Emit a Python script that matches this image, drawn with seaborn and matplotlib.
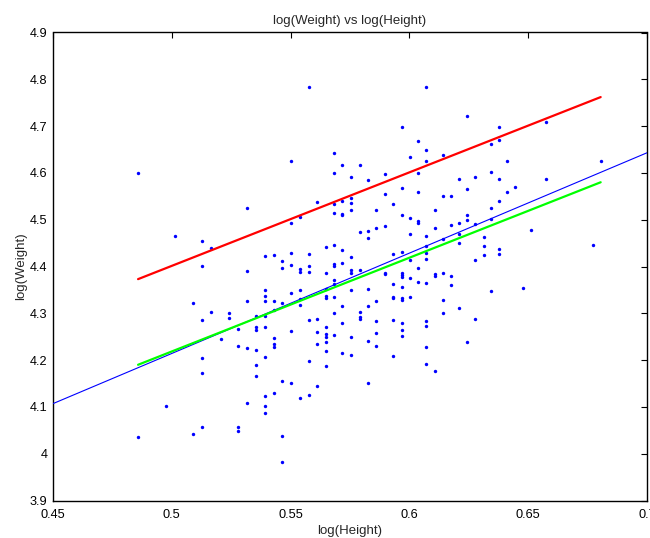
import matplotlib
matplotlib.use("Agg")
import matplotlib.pyplot as plt
import seaborn as sns
import pandas as pd

# ---- data ----
log_height = [
    0.4858, 0.5316, 0.5014, 0.5129, 0.5167, 0.5392, 0.5429, 0.5129, 0.5316, 0.5392,
    0.5392, 0.5316, 0.5392, 0.5429, 0.5090, 0.5429, 0.5167, 0.5242, 0.5242, 0.5354,
    0.5392, 0.5129, 0.5280, 0.5354, 0.5354, 0.5392, 0.5205, 0.5429, 0.5429, 0.5429,
    0.5280, 0.5316, 0.5354, 0.5392, 0.5129, 0.5354, 0.5129, 0.5354, 0.5392, 0.5429,
    0.4975, 0.5316, 0.5392, 0.5392, 0.5129, 0.5090, 0.5279, 0.5279, 0.4858, 0.5539,
    0.5576, 0.5465, 0.5465,
    0.5790, 0.5825, 0.5825, 0.6001, 0.6071, 0.5501, 0.5465, 0.5465, 0.5501, 0.5576,
    0.5539, 0.5539, 0.5576, 0.5576, 0.5647, 0.5684, 0.5718, 0.5755, 0.5683, 0.5683,
    0.5718, 0.5647, 0.5755, 0.5755, 0.5790, 0.5896, 0.5896, 0.5933, 0.5968, 0.5968,
    0.5968, 0.5968, 0.6001, 0.6001, 0.6037, 0.6037, 0.6071, 0.6071, 0.6071, 0.5683,
    0.5683, 0.5647, 0.5539, 0.5501, 0.5755, 0.5825, 0.5933, 0.5968, 0.5647, 0.5647,
    0.5683, 0.5539, 0.5465, 0.5539, 0.5861, 0.5933, 0.5933, 0.5968, 0.5968, 0.6001,
    0.5718, 0.5825, 0.5790, 0.5683, 0.5790, 0.5790, 0.5576, 0.5612, 0.5933, 0.5861,
    0.5718, 0.5968, 0.6071, 0.6071, 0.5647, 0.5968, 0.5501, 0.5612, 0.5861, 0.5647,
    0.5683, 0.5647, 0.5755, 0.5968, 0.5825, 0.5647, 0.5612, 0.5861, 0.6071, 0.5647,
    0.5718, 0.5755, 0.5933, 0.5576, 0.6071, 0.5647, 0.5465, 0.5501, 0.5825, 0.5612,
    0.5576, 0.6071, 0.5968, 0.6037, 0.6071, 0.6071, 0.6001, 0.5501, 0.5683, 0.5683,
    0.5718, 0.5790, 0.5755, 0.5825, 0.5896, 0.6037, 0.5968, 0.6037, 0.5896, 0.5611,
    0.5684, 0.5718, 0.5755, 0.5755, 0.5933, 0.5684, 0.5718, 0.5718, 0.5755, 0.5861,
    0.5539, 0.5501, 0.5896, 0.5968, 0.6001, 0.6037, 0.6037, 0.5861,
    0.6242, 0.6378, 0.6577, 0.6378, 0.6345, 0.6140, 0.6412, 0.6805, 0.6345, 0.6277,
    0.6209, 0.6378, 0.6577, 0.6445, 0.6244, 0.6412, 0.6140, 0.6174, 0.6378, 0.6345,
    0.6106, 0.6244, 0.6244, 0.6345, 0.6277, 0.6209, 0.6174, 0.6106, 0.6209, 0.6312,
    0.6511,
    0.6071, 0.6209, 0.6140, 0.6312, 0.6378, 0.6378, 0.6312, 0.6774, 0.6277, 0.6106,
    0.6106, 0.6140, 0.6174, 0.6174, 0.6345, 0.6479, 0.6140, 0.6140, 0.6209, 0.6277,
    0.6244, 0.6106,
]
log_weight = [
    4.5995, 4.5240, 4.4660, 4.4555, 4.4397, 4.4226, 4.4240, 4.4012, 4.3913, 4.3492,
    4.3379, 4.3272, 4.3272, 4.3272, 4.3214, 4.3079, 4.3021, 4.3000, 4.2908, 4.2950,
    4.2950, 4.2850, 4.2658, 4.2707, 4.2636, 4.2700, 4.2459, 4.2480, 4.2352, 4.2280,
    4.2294, 4.2266, 4.2215, 4.2074, 4.2044, 4.1902, 4.1717, 4.1667, 4.1231, 4.1304,
    4.1011, 4.1081, 4.1026, 4.0876, 4.0562, 4.0427, 4.0562, 4.0482, 4.0362, 4.1197,
    4.1246, 4.0384, 3.9828,
    4.4739, 4.4754, 4.4611, 4.4705, 4.4654, 4.4298, 4.4112, 4.3969, 4.4033, 4.4262,
    4.3948, 4.3892, 4.4020, 4.3883, 4.4427, 4.4455, 4.4354, 4.4213, 4.4048, 4.4012,
    4.4084, 4.3856, 4.3935, 4.3862, 4.3935, 4.3870, 4.3840, 4.4262, 4.4320, 4.3870,
    4.3813, 4.3770, 4.4149, 4.3755, 4.3969, 4.3670, 4.4283, 4.4155, 4.3642, 4.3721,
    4.3635, 4.3520, 4.3492, 4.3428, 4.3492, 4.3528, 4.3620, 4.3556, 4.3364, 4.3336,
    4.3349, 4.3314, 4.3229, 4.3178, 4.3257, 4.3342, 4.3328, 4.3321, 4.3293, 4.3342,
    4.3165, 4.3165, 4.3028, 4.3000, 4.2921, 4.2878, 4.2857, 4.2886, 4.2857, 4.2829,
    4.2801, 4.2801, 4.2829, 4.2728, 4.2715, 4.2636, 4.2622, 4.2608, 4.2587, 4.2551,
    4.2544, 4.2493, 4.2493, 4.2508, 4.2416, 4.2386, 4.2352, 4.2294, 4.2280, 4.2202,
    4.2144, 4.2108, 4.2095, 4.1973, 4.1924, 4.1873, 4.1545, 4.1518, 4.1503, 4.1453,
    4.7828, 4.7840, 4.6972, 4.6673, 4.6487, 4.6258, 4.6343, 4.6251, 4.6416, 4.6001,
    4.6172, 4.6172, 4.5903, 4.5838, 4.5967, 4.5988, 4.5667, 4.5595, 4.5539, 4.5368,
    4.5332, 4.5402, 4.5453, 4.5360, 4.5346, 4.5146, 4.5125, 4.5103, 4.5197, 4.5210,
    4.5060, 4.4919, 4.4876, 4.5111, 4.5047, 4.4974, 4.4931, 4.4818,
    4.7214, 4.6985, 4.7092, 4.6694, 4.6609, 4.6386, 4.6258, 4.6251, 4.6010, 4.5903,
    4.5860, 4.5873, 4.5860, 4.5702, 4.5659, 4.5588, 4.5503, 4.5517, 4.5410, 4.5246,
    4.5197, 4.5096, 4.5004, 4.5011, 4.4910, 4.4931, 4.4882, 4.4833, 4.4696, 4.4626,
    4.4782,
    4.4440, 4.4497, 4.4577, 4.4448, 4.4369, 4.4262, 4.4247, 4.4470, 4.4134, 4.3840,
    4.3798, 4.3870, 4.3798, 4.3614, 4.3477, 4.3541, 4.3285, 4.3015, 4.3107, 4.2886,
    4.2380, 4.1766,
]

# fitted line (full axis width) and the two parallel reference lines
fit_x = [0.45, 0.70]
fit_y = [4.107, 4.643]
ref_x = [0.4858, 0.6805]
red_y = [4.373, 4.762]
green_y = [4.190, 4.580]

x_ticks = [0.45, 0.5, 0.55, 0.6, 0.65, 0.7]
x_tick_labels = ["0.45", "0.5", "0.55", "0.6", "0.65", "0.7"]
y_ticks = [3.9, 4.0, 4.1, 4.2, 4.3, 4.4, 4.5, 4.6, 4.7, 4.8, 4.9]
y_tick_labels = ["3.9", "4", "4.1", "4.2", "4.3", "4.4", "4.5", "4.6", "4.7", "4.8", "4.9"]

# ---- plot ----
sns.set_style("white")
plt.rcParams["font.family"] = ["Liberation Sans", "DejaVu Sans"]

fig = plt.figure(figsize=(6.5, 5.38), dpi=100)
ax = fig.add_axes([53 / 650, (538 - 500.5) / 538, 594 / 650, 468 / 538])

df = pd.DataFrame({"h": log_height, "w": log_weight})
sns.scatterplot(data=df, x="h", y="w", color=(0, 0, 1), s=6, linewidth=0,
                marker="o", ax=ax, zorder=2)
sns.lineplot(x=fit_x, y=fit_y, color=(0, 0, 1), linewidth=0.8, ax=ax, zorder=3)
sns.lineplot(x=ref_x, y=red_y, color=(1, 0, 0), linewidth=1.6, ax=ax, zorder=3)
sns.lineplot(x=ref_x, y=green_y, color=(0, 1, 0), linewidth=1.6, ax=ax, zorder=3)

ax.set_xlim(0.45, 0.70)
ax.set_ylim(3.9, 4.9)
ax.set_xticks(x_ticks)
ax.set_xticklabels(x_tick_labels)
ax.set_yticks(y_ticks)
ax.set_yticklabels(y_tick_labels)
ax.tick_params(direction="in", length=4, width=0.8, labelsize=9.2, colors="black",
               top=True, right=True, pad=4)
ax.tick_params(axis="x", pad=6)
for sp in ax.spines.values():
    sp.set_visible(True)
    sp.set_color("black")
    sp.set_linewidth(1.0)

ax.set_xlabel("log(Height)", fontsize=9.5, labelpad=3)
ax.set_ylabel("log(Weight)", fontsize=9.5, labelpad=2)
ax.set_title("log(Weight) vs log(Height)", fontsize=9.5, pad=6)
ax.grid(False)

fig.savefig("out.png", dpi=100)
